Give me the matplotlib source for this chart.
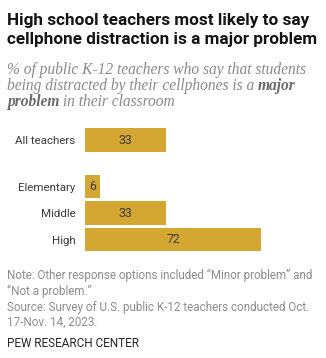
import matplotlib
matplotlib.use("Agg")
import matplotlib.pyplot as plt

categories = ["All teachers", "Elementary", "Middle", "High"]
values = [33, 6, 33, 72]
value_labels = ["33", "6", "33", "72"]

title_lines = ["High school teachers most likely to say",
               "cellphone distraction is a major problem"]
note_lines = ["Note: Other response options included \u201cMinor problem\u201d and",
              "\u201cNot a problem.\u201d",
              "Source: Survey of U.S. public K-12 teachers conducted Oct.",
              "17-Nov. 14, 2023."]
credit = "PEW RESEARCH CENTER"

W, H = 326, 358
BAR = "#D4A733"
SANS = "Roboto"
SERIF = "Liberation Serif"

fig = plt.figure(figsize=(W / 100, H / 100), dpi=100)
fig.patch.set_facecolor("white")
renderer = fig.canvas.get_renderer()


def fx(px):
    return px / W


def fy(py):
    return 1 - py / H


def fitted_size(text, width_px, **kw):
    """Font size (pt) at which `text` spans `width_px` pixels."""
    probe = fig.text(0, 0, text, fontsize=10, **kw)
    w = probe.get_window_extent(renderer).width
    probe.remove()
    return 10 * width_px / w


# Title
title_size = fitted_size(title_lines[1], 311, fontweight="bold", family=SANS)
for i, line in enumerate(title_lines):
    fig.text(fx(7), fy(25 + 19 * i), line, fontsize=title_size,
             fontweight="bold", family=SANS, color="#141414",
             va="baseline", ha="left")

# Subtitle with bold emphasis
sub_color = "#8a8a8a"
bold_color = "#6a6a6a"
sub_size = fitted_size("% of public K-12 teachers who say that students", 301,
                       style="italic", family=SERIF)
fig.text(fx(7), fy(74), "% of public K-12 teachers who say that students",
         fontsize=sub_size, style="italic", family=SERIF, color=sub_color,
         va="baseline")
t2 = fig.text(fx(7), fy(90), "being distracted by their cellphones is a ",
              fontsize=sub_size, style="italic", family=SERIF, color=sub_color,
              va="baseline")
t3 = fig.text(fx(7), fy(106), "problem", fontsize=sub_size, fontweight="bold",
              family=SERIF, style="italic", color=bold_color, va="baseline")
e2 = t2.get_window_extent(renderer)
fig.text(e2.x1 / W, fy(90), "major", fontsize=sub_size, fontweight="bold",
         style="italic", family=SERIF, color=bold_color, va="baseline")
e3 = t3.get_window_extent(renderer)
fig.text(e3.x1 / W, fy(106), " in their classroom", fontsize=sub_size,
         style="italic", family=SERIF, color=sub_color, va="baseline")

# Bars
positions = [0, 1.75, 2.75, 3.75]
ppu = 26.6
top_pos, bot_pos = -0.6, 4.3
ax_top = 140 + ppu * top_pos
ax_bot = 140 + ppu * bot_pos
ax = fig.add_axes([fx(85), fy(ax_bot), 245 / W, (ax_bot - ax_top) / H])
ax.barh(positions, values, height=0.88, color=BAR, left=0)
ax.set_xlim(0, 100)
ax.set_ylim(bot_pos, top_pos)
label_size = fitted_size("All teachers", 60, family=SANS)
for p, v, lab in zip(positions, values, value_labels):
    ax.text(v / 2, p, lab, ha="center", va="center", fontsize=label_size + 0.6,
            family=SANS, color="#3a3a3a")
ax.set_yticks(positions)
ax.set_yticklabels(categories, family=SANS, fontsize=label_size,
                   color="#3a3a3a")
ax.tick_params(axis="y", length=0, pad=7)
ax.set_xticks([])
for s in ax.spines.values():
    s.set_visible(False)
ax.patch.set_alpha(0)

# Notes
note_size = fitted_size(note_lines[0], 306, family=SANS)
for i, line in enumerate(note_lines):
    fig.text(fx(7), fy(279 + [0, 16, 32, 47][i]), line, fontsize=note_size,
             family=SANS, color="#8c8c8c", va="baseline")
credit_size = fitted_size(credit, 132, family=SANS)
fig.text(fx(7), fy(347), credit, fontsize=credit_size, family=SANS,
         color="#262626", va="baseline")

fig.savefig("out.png", dpi=100, facecolor="white")
